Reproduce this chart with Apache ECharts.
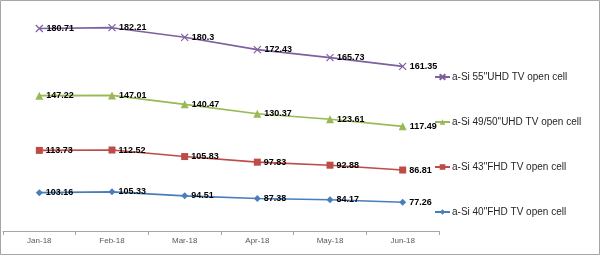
<!DOCTYPE html>
<html>
<head>
<meta charset="utf-8">
<script src="https://cdn.jsdelivr.net/npm/echarts@6/dist/echarts.min.js"></script>
<style>html,body{margin:0;padding:0;background:#fff;}#c{width:600px;height:255px;}</style>
</head>
<body>
<div id="c"></div>
<script>
var categories = ['Jan-18', 'Feb-18', 'Mar-18', 'Apr-18', 'May-18', 'Jun-18'];
var s40 = [103.16, 105.33, 94.51, 87.38, 84.17, 77.26];
var s43 = [113.73, 112.52, 105.83, 97.83, 92.88, 86.81];
var s4950 = [147.22, 147.01, 140.47, 130.37, 123.61, 117.49];
var s55 = [180.71, 182.21, 180.3, 172.43, 165.73, 161.35];
var names = ['a-Si 40"FHD TV open cell', 'a-Si 43"FHD TV open cell', 'a-Si 49/50"UHD TV open cell', 'a-Si 55"UHD TV open cell'];
var legendOrder = [names[3], names[2], names[1], names[0]];

var chart = echarts.init(document.getElementById('c'), null, {renderer: 'canvas'});
var FONT = 'Liberation Sans, Arial, sans-serif';
function mk(name, data, color, symbol, size, extra) {
  var s = {
    name: name, type: 'line', stack: 'total', data: data,
    symbol: symbol, symbolSize: size,
    lineStyle: {color: color, width: 1.6},
    itemStyle: Object.assign({color: color, borderColor: color, borderWidth: 0}, extra || {}),
    label: {show: true, position: 'right', distance: 3, color: '#000', fontSize: 9, fontWeight: 'bold', fontFamily: FONT},
    emphasis: {disabled: true},
    animation: false
  };
  return s;
}
chart.setOption({
  animation: false,
  backgroundColor: '#fff',
  graphic: [{type: 'rect', shape: {x: 0.5, y: 0.5, width: 599, height: 254}, style: {fill: 'none', stroke: '#a6a6a6', lineWidth: 1}, silent: true}],
  grid: {left: 3, right: 161, top: 8, bottom: 24},
  legend: {
    orient: 'vertical', left: 434, top: 72, padding: 0, itemGap: 35, itemWidth: 15, itemHeight: 7,
    data: legendOrder,
    textStyle: {fontSize: 10, color: '#262626', fontFamily: FONT, padding: [0, 0, 0, -3]}
  },
  xAxis: {
    type: 'category', data: categories, boundaryGap: true,
    axisLine: {lineStyle: {color: '#a6a6a6'}},
    axisTick: {show: true, length: 4, interval: 0, lineStyle: {color: '#a6a6a6'}},
    axisLabel: {color: '#595959', fontSize: 8, fontFamily: FONT, margin: 6}
  },
  yAxis: {type: 'value', min: 0, max: 600, show: false, splitLine: {show: false}},
  series: [
    mk(names[0], s40, '#4A7EBB', 'diamond', 7),
    mk(names[1], s43, '#BE4B48', 'rect', 7),
    mk(names[2], s4950, '#98B954', 'triangle', 8),
    mk(names[3], s55, '#7D60A0', 'path://M0,0L10,10M10,0L0,10', 7, {borderWidth: 1.2, color: 'rgba(0,0,0,0)'})
  ]
});
</script>
</body>
</html>
